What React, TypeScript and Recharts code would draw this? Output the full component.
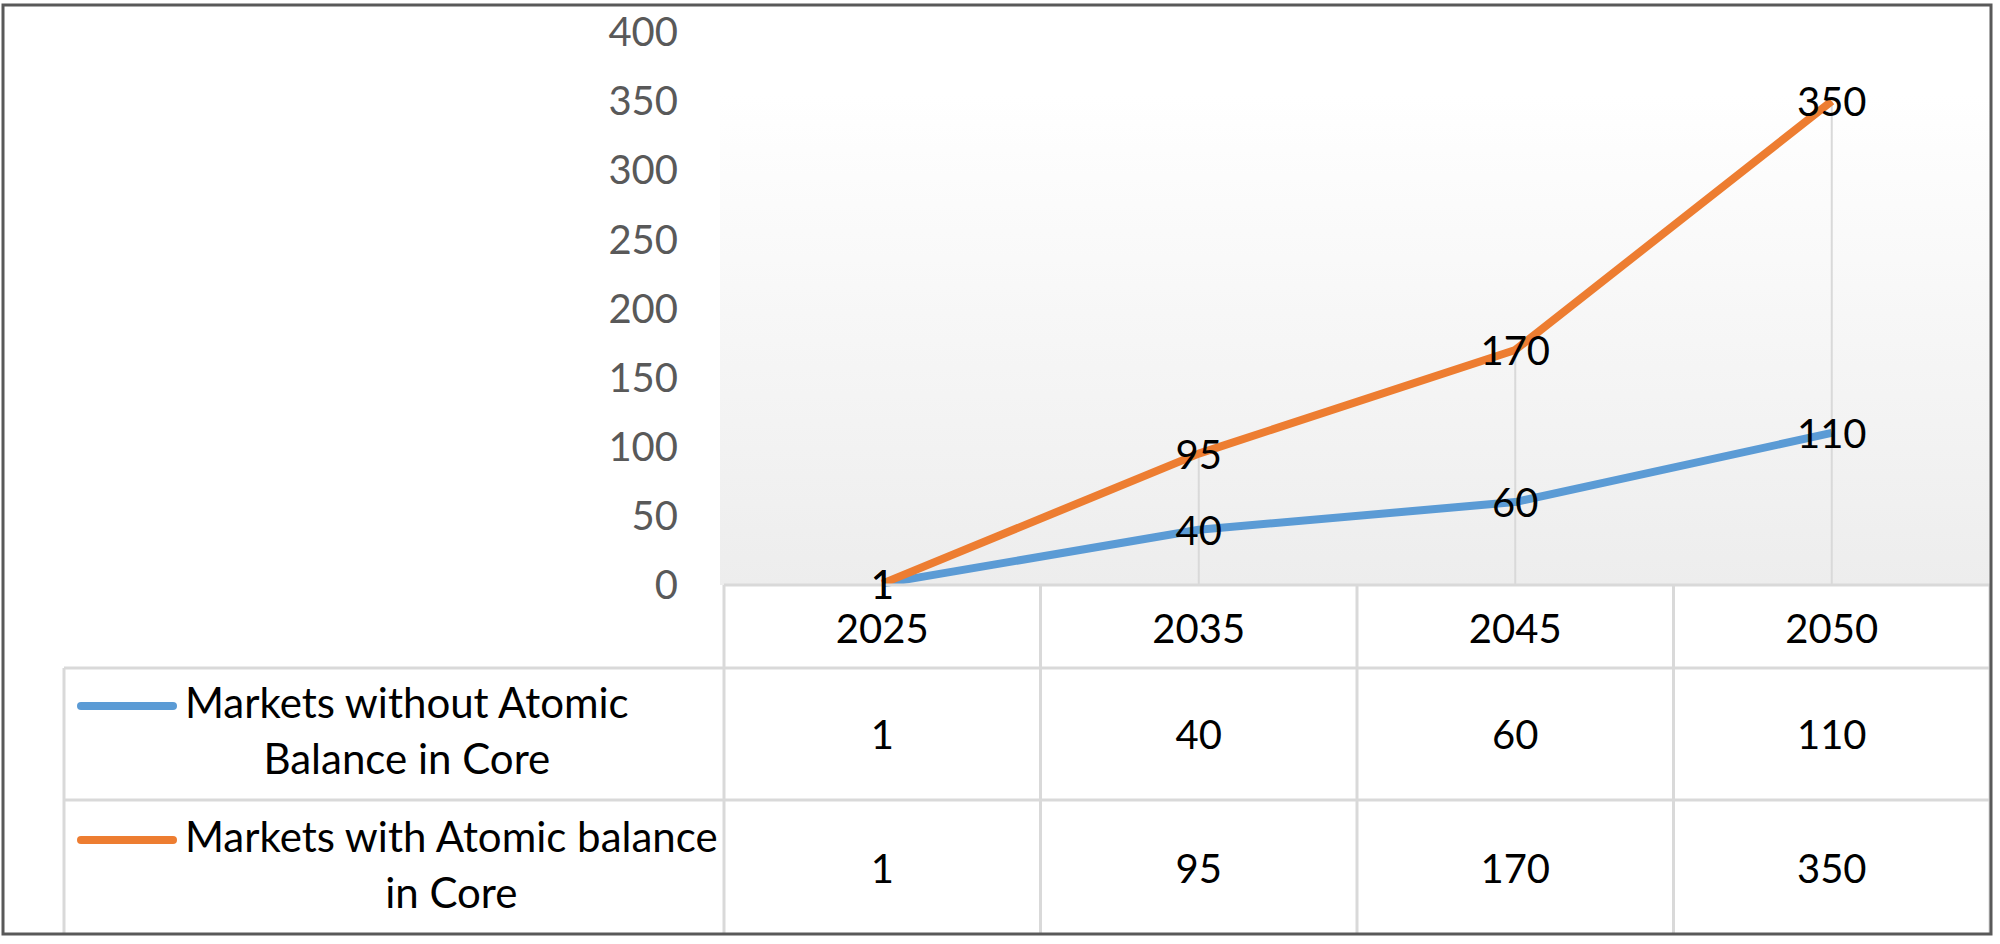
import React from 'react';
import { ComposedChart, Line, XAxis, YAxis, ReferenceLine, LabelList } from 'recharts';

// chart values
const years = ['2025', '2035', '2045', '2050'];
const withoutAtomic = [1, 40, 60, 110];
const withAtomic = [1, 95, 170, 350];
const seriesNames = ['Markets without Atomic Balance in Core', 'Markets with Atomic balance in Core'];
// legend text as wrapped in the data table
const legendLines = [
  ['Markets without Atomic', 'Balance in Core'],
  ['Markets with Atomic balance', 'in Core'],
];
const yTicks = [0, 50, 100, 150, 200, 250, 300, 350, 400];

const BLUE = '#5B9BD5';
const ORANGE = '#ED7D31';
const GRID = '#d9d9d9';
const FONT = "Lato, 'Open Sans', sans-serif";
const NUM_SIZE = 40;
const TEXT_SIZE = 42;

// layout (page pixels)
const W = 2000;
const H = 944;
const PLOT_LEFT = 724;
const PLOT_RIGHT = 1990;
const PLOT_TOP = 32;
const PLOT_BOTTOM = 585;
const HEADER_BOTTOM = 668;
const ROW1_BOTTOM = 800;
const TABLE_BOTTOM = 935;
const LEGEND_LEFT = 64;

const data = years.map((year, i) => ({ year, without: withoutAtomic[i], with: withAtomic[i] }));

const series = [
  { key: 'without', name: seriesNames[0], color: BLUE, values: withoutAtomic },
  { key: 'with', name: seriesNames[1], color: ORANGE, values: withAtomic },
];

const rowBounds = [
  [HEADER_BOTTOM, ROW1_BOTTOM],
  [ROW1_BOTTOM, TABLE_BOTTOM],
];

const halfBand = (PLOT_RIGHT - PLOT_LEFT) / years.length / 2;

// one table column per category, drawn from the x axis tick
const TableColumn = (props: any) => {
  const { x, payload, index } = props;
  const last = index === years.length - 1;
  return (
    <g>
      <line x1={x - halfBand} x2={x - halfBand} y1={PLOT_BOTTOM} y2={TABLE_BOTTOM} stroke={GRID} strokeWidth={3} />
      {last && (
        <line x1={x + halfBand} x2={x + halfBand} y1={PLOT_BOTTOM} y2={TABLE_BOTTOM} stroke={GRID} strokeWidth={3} />
      )}
      <text x={x} y={(PLOT_BOTTOM + HEADER_BOTTOM) / 2 + 1} textAnchor="middle" dominantBaseline="central" fill="#000" fontSize={NUM_SIZE} fontFamily={FONT}>
        {payload.value}
      </text>
      {series.map((s, si) => (
        <text key={s.key} x={x} y={(rowBounds[si][0] + rowBounds[si][1]) / 2} textAnchor="middle" dominantBaseline="central" fill="#000" fontSize={NUM_SIZE} fontFamily={FONT}>
          {s.values[index]}
        </text>
      ))}
    </g>
  );
};

const PointLabel = (props: any) => {
  const { x, y, value } = props;
  return (
    <text x={x} y={y} textAnchor="middle" dominantBaseline="central" fill="#000" fontSize={NUM_SIZE} fontFamily={FONT}>
      {value}
    </text>
  );
};

const App = () => {
  return (
    <div style={{ position: 'absolute', left: 0, top: 0, width: W, height: H, background: '#fff', fontFamily: FONT }}>
      {/* plot area fill */}
      <div
        style={{
          position: 'absolute',
          left: 720,
          top: 95,
          width: PLOT_RIGHT - 720,
          height: PLOT_BOTTOM - 95,
          background: 'linear-gradient(#ffffff, #ededed)',
        }}
      />

      <div style={{ position: 'absolute', left: 0, top: 0 }}>
        <ComposedChart
          width={W}
          height={H}
          data={data}
          margin={{ top: PLOT_TOP, right: W - PLOT_RIGHT, bottom: 10, left: 0 }}
        >
          <XAxis
            dataKey="year"
            scale="band"
            height={H - 10 - PLOT_BOTTOM}
            axisLine={{ stroke: GRID, strokeWidth: 3 }}
            tickLine={false}
            interval={0}
            tick={<TableColumn />}
          />
          <YAxis
            width={PLOT_LEFT}
            domain={[0, 400]}
            ticks={yTicks}
            axisLine={false}
            tickLine={false}
            tickMargin={40}
            tick={{ fill: '#595959', fontSize: NUM_SIZE, fontFamily: FONT }}
          />
          {years.map((year, i) => (
            <ReferenceLine
              key={year}
              segment={[
                { x: year, y: 0 },
                { x: year, y: Math.max(withoutAtomic[i], withAtomic[i]) },
              ]}
              stroke={GRID}
              strokeWidth={2}
            />
          ))}
          {series.map((s) => (
            <Line
              key={s.key}
              type="linear"
              dataKey={s.key}
              name={s.name}
              stroke={s.color}
              strokeWidth={8}
              strokeLinejoin="round"
              dot={false}
              activeDot={false}
              isAnimationActive={false}
            >
              <LabelList dataKey={s.key} content={<PointLabel />} />
            </Line>
          ))}
        </ComposedChart>
      </div>

      {/* table rules and legend column */}
      <svg width={W} height={H} style={{ position: 'absolute', left: 0, top: 0, pointerEvents: 'none' }}>
        <line x1={LEGEND_LEFT} x2={PLOT_RIGHT} y1={HEADER_BOTTOM} y2={HEADER_BOTTOM} stroke={GRID} strokeWidth={3} />
        <line x1={LEGEND_LEFT} x2={PLOT_RIGHT} y1={ROW1_BOTTOM} y2={ROW1_BOTTOM} stroke={GRID} strokeWidth={3} />
        <line x1={LEGEND_LEFT} x2={LEGEND_LEFT} y1={HEADER_BOTTOM} y2={TABLE_BOTTOM} stroke={GRID} strokeWidth={3} />
        <rect x={3} y={5} width={1988} height={929} fill="none" stroke="#595959" strokeWidth={3} />
      </svg>

      {series.map((s, si) => (
        <div
          key={s.key}
          style={{
            position: 'absolute',
            left: LEGEND_LEFT,
            top: rowBounds[si][0],
            width: PLOT_LEFT - LEGEND_LEFT,
            height: rowBounds[si][1] - rowBounds[si][0],
            display: 'flex',
            alignItems: 'center',
          }}
        >
          <div style={{ display: 'flex', alignItems: 'flex-start', paddingLeft: 13 }}>
            <div style={{ width: 100, height: 56, display: 'flex', alignItems: 'center', flexShrink: 0 }}>
              <div style={{ width: 100, height: 8, borderRadius: 4, background: s.color }} />
            </div>
            <div
              title={s.name}
              style={{
                marginLeft: 8,
                textAlign: 'center',
                fontSize: TEXT_SIZE,
                lineHeight: '56px',
                color: '#000',
                whiteSpace: 'nowrap',
                transform: 'translateY(-4px)',
              }}
            >
              {legendLines[si].map((line) => (
                <div key={line}>{line}</div>
              ))}
            </div>
          </div>
        </div>
      ))}
    </div>
  );
};

export default App;
